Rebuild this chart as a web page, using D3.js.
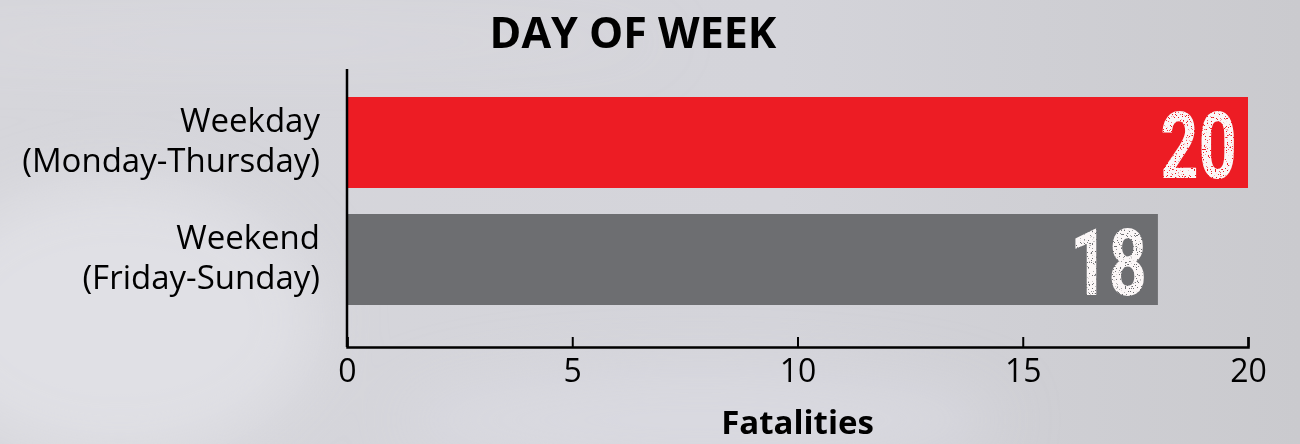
<!DOCTYPE html>
<html>
<head>
<meta charset="utf-8">
<script src="https://cdn.jsdelivr.net/npm/d3@7"></script>
<style>
  body { margin: 0; }
  svg { display: block; }
</style>
</head>
<body>
<div id="chart"></div>
<script>
// Data
const categories = ["Weekday\n(Monday-Thursday)", "Weekend\n(Friday-Sunday)"]
const values = [20, 18]
const barColors = ["#ED1C24", "#6D6E71"]
const tickValues = [0, 5, 10, 15, 20]

const W = 1300, H = 444
const margin = { top: 69, right: 52, bottom: 97, left: 347 }

const svg = d3.select("#chart").append("svg")
    .attr("width", W)
    .attr("height", H)

// Background
const defs = svg.append("defs")
const bg = defs.append("linearGradient").attr("id", "bg")
    .attr("x1", 0).attr("y1", 0).attr("x2", 1).attr("y2", 0)
bg.append("stop").attr("offset", 0).attr("stop-color", "#d6d6db")
bg.append("stop").attr("offset", 0.6).attr("stop-color", "#d4d4da")
bg.append("stop").attr("offset", 1).attr("stop-color", "#cacace")
defs.append("filter").attr("id", "blur")
  .append("feGaussianBlur").attr("stdDeviation", 30)

// speckle texture for the big numbers
const rough = defs.append("filter").attr("id", "rough")
rough.append("feTurbulence").attr("type", "fractalNoise").attr("baseFrequency", 0.9)
    .attr("numOctaves", 2).attr("seed", 3).attr("result", "noise")
rough.append("feColorMatrix").attr("in", "noise").attr("type", "matrix")
    .attr("values", "0 0 0 0 0  0 0 0 0 0  0 0 0 0 0  0 0 0 -15 10.5").attr("result", "mask")
rough.append("feComposite").attr("in", "SourceGraphic").attr("in2", "mask").attr("operator", "in")

svg.append("rect").attr("width", W).attr("height", H).attr("fill", "url(#bg)")
const clouds = svg.append("g").attr("filter", "url(#blur)")
clouds.append("ellipse").attr("cx", 120).attr("cy", 320).attr("rx", 200).attr("ry", 140)
    .attr("fill", "#e2e2e7").attr("opacity", 0.8)
clouds.append("ellipse").attr("cx", 250).attr("cy", 42).attr("rx", 420).attr("ry", 5)
    .attr("fill", "#e8e4ea").attr("opacity", 0.9)
clouds.append("ellipse").attr("cx", 700).attr("cy", 420).attr("rx", 300).attr("ry", 50)
    .attr("fill", "#dcdce2").attr("opacity", 0.7)

const width = W - margin.left - margin.right
const height = H - margin.top - margin.bottom

const g = svg.append("g")
    .attr("transform", "translate(" + margin.left + "," + margin.top + ")")

const x = d3.scaleLinear().domain([0, 20]).range([0, width])
const y = d3.scaleBand().domain(categories).range([28, 236]).paddingInner(26 / 117).paddingOuter(0)

// Bars
g.selectAll("rect.bar")
  .data(values)
  .join("rect")
    .attr("class", "bar")
    .attr("x", 0)
    .attr("y", (d, i) => y(categories[i]))
    .attr("width", d => x(d))
    .attr("height", y.bandwidth())
    .attr("fill", (d, i) => barColors[i])

// Value labels
g.selectAll("text.val")
  .data(values)
  .join("text")
    .attr("class", "val")
    .attr("transform", (d, i) => "translate(" + (x(d) - 11) + "," + (y(categories[i]) + y.bandwidth() / 2 + 35) + ") scale(0.72,1)")
    .attr("text-anchor", "end")
    .attr("font-family", "Roboto")
    .attr("font-weight", 700)
    .attr("font-size", 93)
    .attr("fill", "#fbf7f7")
    .attr("filter", "url(#rough)")
    .text(d => d)

// X axis
const xAxis = g.append("g")
    .attr("transform", "translate(0," + height + ")")
    .call(d3.axisBottom(x).tickValues(tickValues).tickSize(-10).tickSizeOuter(-10).tickPadding(12))
xAxis.select(".domain").attr("stroke", "#000").attr("stroke-width", 2.5)
xAxis.selectAll(".tick line").attr("stroke", "#000").attr("stroke-width", 2)
xAxis.selectAll(".tick text")
    .attr("font-family", "Open Sans")
    .attr("font-size", 32)
    .attr("fill", "#000")

// Y axis line
g.append("line")
    .attr("x1", 0).attr("x2", 0)
    .attr("y1", 0).attr("y2", height)
    .attr("stroke", "#000").attr("stroke-width", 2.5)

// Category labels, one text per line
const lines = categories.flatMap(c => c.split("\n").map((t, j) => ({ cat: c, t: t, j: j })))
g.selectAll("text.cat")
  .data(lines)
  .join("text")
    .attr("class", "cat")
    .attr("text-anchor", "end")
    .attr("font-family", "Open Sans")
    .attr("font-size", 33)
    .attr("fill", "#000")
    .attr("x", -27)
    .attr("y", d => y(d.cat) + y.bandwidth() / 2 - 10.5 + d.j * 40)
    .text(d => d.t)

// Title
svg.append("text")
    .attr("x", 633).attr("y", 48)
    .attr("text-anchor", "middle")
    .attr("font-family", "Open Sans")
    .attr("font-weight", 700)
    .attr("font-size", 43)
    .attr("fill", "#000")
    .text("DAY OF WEEK")

// Axis title
svg.append("text")
    .attr("x", margin.left + width / 2).attr("y", 434)
    .attr("text-anchor", "middle")
    .attr("font-family", "Open Sans")
    .attr("font-weight", 700)
    .attr("font-size", 33)
    .attr("fill", "#000")
    .text("Fatalities")
</script>
</body>
</html>
